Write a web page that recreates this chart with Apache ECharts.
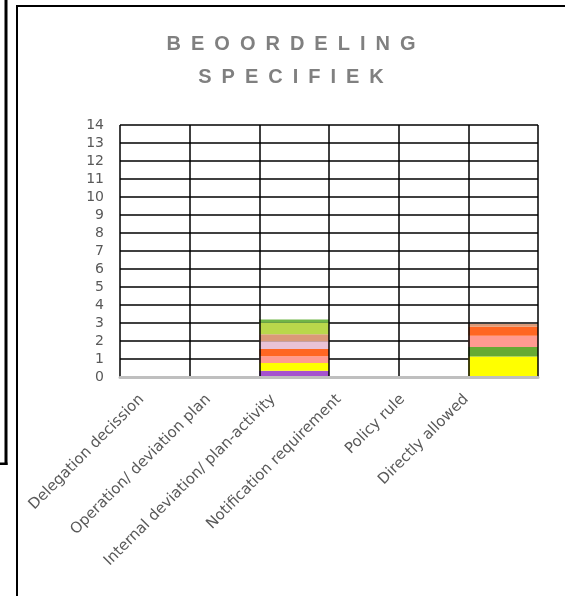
<!DOCTYPE html>
<html>
<head>
<meta charset="utf-8">
<script src="https://cdn.jsdelivr.net/npm/echarts@6/dist/echarts.min.js"></script>
<style>html,body{margin:0;padding:0;background:#fff;}#c{width:565px;height:596px;}</style>
</head>
<body>
<div id="c"></div>
<script>
var categories = ['Delegation decission','Operation/ deviation plan','Internal deviation/ plan-activity','Notification requirement','Policy rule','Directly allowed'];
var yTicks = [0,1,2,3,4,5,6,7,8,9,10,11,12,13,14];
var purple      = [0,0,0.35,0,0,0];
var yellow      = [0,0,0.43,0,0,1.14];
var darkGreen   = [0,0,0,0,0,0.52];
var salmon      = [0,0,0.37,0,0,0.63];
var orange      = [0,0,0.41,0,0,0.52];
var lightPink   = [0,0,0.43,0,0,0];
var tan         = [0,0,0.39,0,0,0.13];
var yellowGreen = [0,0,0.63,0,0,0];
var green       = [0,0,0.18,0,0,0];

var seriesDefs = [
  ['purple', purple, '#A552CF'],
  ['yellow', yellow, '#FFFF00'],
  ['darkGreen', darkGreen, '#66AA33'],
  ['salmon', salmon, '#FF9A90'],
  ['orange', orange, '#FF6622'],
  ['lightPink', lightPink, '#E9C2D6'],
  ['tan', tan, '#DA9A78'],
  ['yellowGreen', yellowGreen, '#B9D84B'],
  ['green', green, '#70B646']
];

// per-label shift (px, horizontal) to mimic the original label placement
var labelShift = [13, 16, 21, 25, 31, 37];
var rich = {};
labelShift.forEach(function (s, i) {
  var p = s / 1.414;
  rich['l' + i] = {
    fontSize: 15,
    fontFamily: 'DejaVu Sans',
    color: '#595959',
    padding: [0, p, 2 * p, 0]
  };
});

var EN = '\u2002';
function spaced(s) { return s.split('').join(EN); }

var chart = echarts.init(document.getElementById('c'), null, {renderer: 'canvas'});
chart.setOption({
  animation: false,
  backgroundColor: '#ffffff',
  title: {
    text: spaced('BEOORDELING') + '\n' + spaced('SPECIFIEK'),
    left: 291,
    top: 28,
    padding: 0,
    textAlign: 'center',
    textStyle: {
      color: '#808080',
      fontSize: 20,
      fontWeight: 'bold',
      fontFamily: 'Liberation Sans',
      lineHeight: 33
    }
  },
  grid: {left: 120, top: 125, right: 27, bottom: 219, containLabel: false},
  xAxis: {
    type: 'category',
    data: categories,
    boundaryGap: true,
    axisLine: {show: true, lineStyle: {color: '#BFBFBF', width: 3}},
    axisTick: {show: false},
    splitLine: {show: true, interval: 0, lineStyle: {color: '#000', width: 1.5}},
    axisLabel: {
      interval: 0,
      rotate: 45,
      margin: 20,
      color: '#595959',
      fontSize: 15,
      fontFamily: 'DejaVu Sans',
      formatter: function (v, i) { return '{l' + i + '|' + v + '}'; },
      rich: rich
    },
    z: 3
  },
  yAxis: {
    type: 'value',
    min: yTicks[0],
    max: yTicks[yTicks.length - 1],
    interval: 1,
    axisLine: {show: false},
    axisTick: {show: false},
    splitLine: {show: true, lineStyle: {color: '#000', width: 1.5}},
    axisLabel: {color: '#595959', fontSize: 14, fontFamily: 'DejaVu Sans', margin: 16}
  },
  series: seriesDefs.map(function (d) {
    return {
      name: d[0],
      type: 'bar',
      stack: 'total',
      data: d[1],
      barCategoryGap: '0%',
      itemStyle: {color: d[2]},
      z: 2
    };
  }),
  graphic: [
    {type: 'rect', shape: {x: 4.5, y: 0, width: 3, height: 465}, style: {fill: '#000'}},
    {type: 'rect', shape: {x: 0, y: 462.5, width: 7.5, height: 2.5}, style: {fill: '#000'}},
    {type: 'polyline', shape: {points: [[17, 600], [17, 6], [570, 6]]}, style: {stroke: '#000', lineWidth: 2, fill: null}}
  ]
});
</script>
</body>
</html>
